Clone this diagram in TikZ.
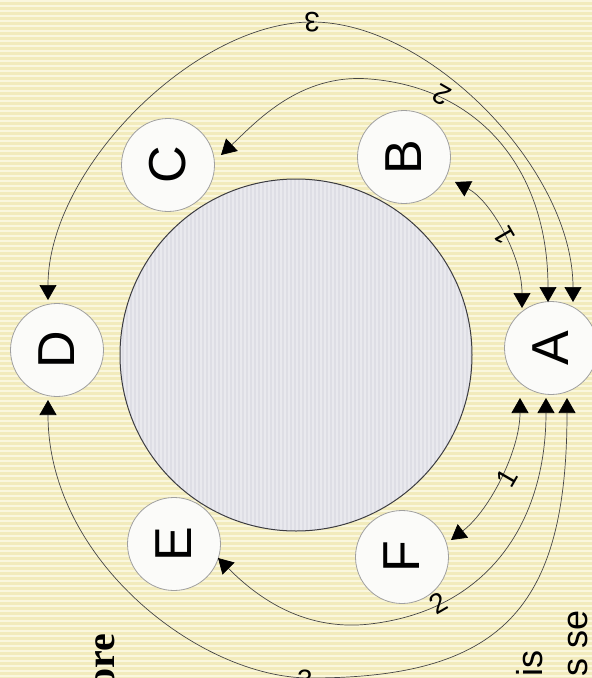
\documentclass[tikz,border=0pt]{standalone}
\usepackage{fontspec}
\setmainfont{Liberation Sans}
\newfontfamily\serifbold{Liberation Serif}
\usetikzlibrary{arrows.meta}
\definecolor{bgY}{RGB}{242,235,188}
\definecolor{bgL}{RGB}{250,247,222}
\definecolor{hubfill}{RGB}{222,222,229}
\definecolor{hubedge}{RGB}{60,60,65}
\definecolor{nodefill}{RGB}{251,251,249}
\definecolor{nodeedge}{RGB}{160,160,160}
\definecolor{linec}{RGB}{70,70,70}
\begin{document}
\begin{tikzpicture}[x=1pt,y=-1pt,
  station/.style={circle, draw=nodeedge, line width=0.8pt, fill=nodefill,
    minimum size=93pt, inner sep=0pt, rotate=90,
    font=\fontsize{52}{52}\selectfont},
  link/.style={draw=linec, line width=0.7pt,
    {Triangle[length=15pt,width=17pt,color=black]}-{Triangle[length=15pt,width=17pt,color=black]}},
  num/.style={font=\fontsize{28}{28}\selectfont, inner sep=0pt, text=black},
  pagetext/.style={rotate=90, anchor=base east, inner sep=0pt},
]
\useasboundingbox (0,0) rectangle (592,678);
\clip (0,0) rectangle (592,678);
% background paper
\fill[bgY] (0,0) rectangle (592,678);
\foreach \yy in {0,5,...,675} \fill[bgL] (0,\yy) rectangle (592,\yy+2);
% hub
\fill[hubfill] (296,355) circle (176pt);
\begin{scope}
  \clip (296,355) circle (176pt);
  \foreach \xx in {120,124,...,472} \fill[white,opacity=0.35] (\xx,178) rectangle (\xx+1.6,532);
\end{scope}
\node[circle, draw=hubedge, line width=1pt, minimum size=352pt, inner sep=0pt] (hub) at (296,355) {};
% stations
\node[station] (A) at (551,348) {A};
\node[station] (B) at (404,157) {B};
\node[station] (C) at (168,165) {C};
\node[station] (D) at (57,350) {D};
\node[station] (E) at (174,544) {E};
\node[station] (F) at (402,557) {F};
% arrow end points next to the stations
\coordinate (a1t) at (522,308);
\coordinate (a2t) at (548,302);
\coordinate (a3t) at (573,302);
\coordinate (a1b) at (520,398);
\coordinate (a2b) at (546,398);
\coordinate (a3b) at (567,398);
\coordinate (b1) at (455,182);
\coordinate (c2) at (221,155);
\coordinate (d3t) at (48,300);
\coordinate (d3b) at (48,400);
\coordinate (e2) at (218,558);
\coordinate (f1) at (451,540);
% connectors
\draw[link] (a1t) .. controls (522,255) and (490,200) .. (b1);
\draw[link] (a1b) .. controls (520,450) and (490,510) .. (f1);
\draw[link] (a2t) .. controls (548,170) and (480,88) .. (370,79)
                  .. controls (300,73) and (256,122) .. (c2);
\draw[link] (a2b) .. controls (546,520) and (490,610) .. (370,624)
                  .. controls (300,632) and (253,593) .. (e2);
\draw[link] (a3t) .. controls (573,170) and (430,22) .. (312,22)
                  .. controls (194,22) and (48,170) .. (d3t);
\draw[link] (a3b) .. controls (567,610) and (500,678) .. (310,678)
                  .. controls (200,678) and (48,560) .. (d3b);
% connector labels
\node[num, rotate=180] (l3t) at (312,22) {3};
\node[num, rotate=150] (l2t) at (442,95) {2};
\node[num, rotate=120] (l1t) at (504,236) {1};
\node[num, rotate=60] (l1b) at (507,478) {1};
\node[num, rotate=30] (l2b) at (438,603) {2};
\node[num, rotate=0] (l3b) at (305,680) {3};
% fragments of page text
\node[pagetext, font=\serifbold\bfseries\fontsize{40}{40}\selectfont] (ore) at (114,634) {ore};
\node[pagetext, font=\fontsize{36}{36}\selectfont] (tx1) at (542,650) {is};
\node[pagetext, font=\fontsize{36}{36}\selectfont] (tx2) at (587,610) {s se};
\end{tikzpicture}
\end{document}
